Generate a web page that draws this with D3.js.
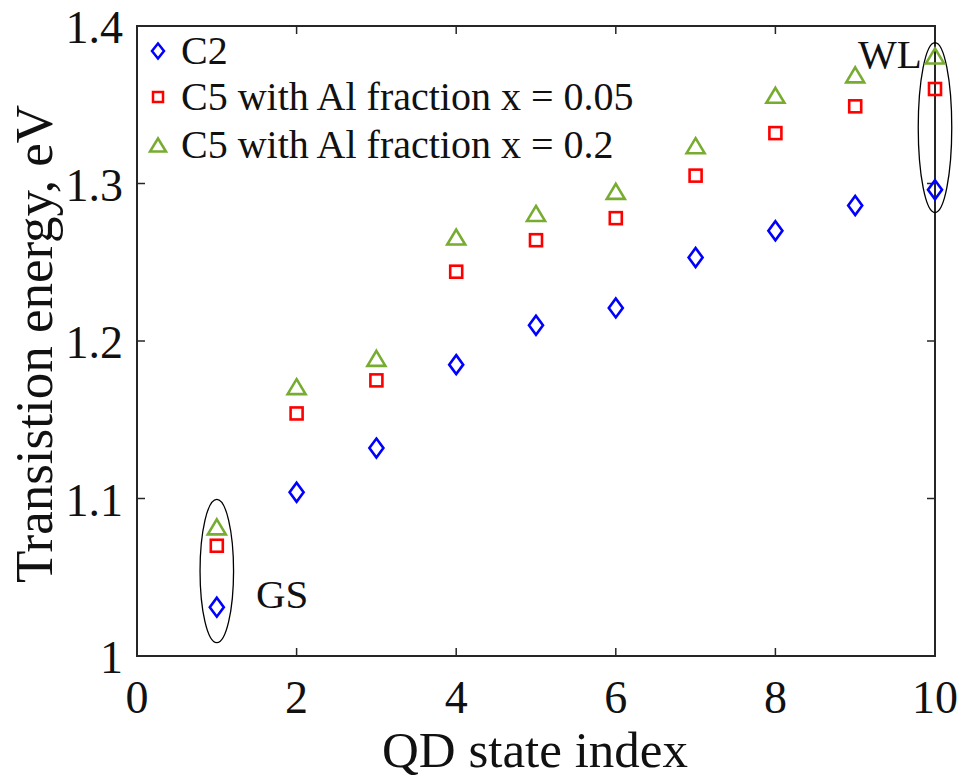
<!DOCTYPE html>
<html>
<head>
<meta charset="utf-8">
<script src="https://cdn.jsdelivr.net/npm/d3@7"></script>
<style>
  html, body { margin: 0; padding: 0; background: #fff; }
  svg { display: block; }
  text { font-family: "Liberation Serif", "Times New Roman", serif; fill: #111; }
</style>
</head>
<body>
<script>
// ---- data ----
const stateIndex = [1, 2, 3, 4, 5, 6, 7, 8, 9, 10];
const c2Values   = [1.031, 1.104, 1.132, 1.185, 1.210, 1.221, 1.253, 1.270, 1.286, 1.296];
const c5x005     = [1.070, 1.154, 1.175, 1.244, 1.264, 1.278, 1.305, 1.332, 1.349, 1.360];
const c5x02      = [1.082, 1.171, 1.189, 1.266, 1.281, 1.295, 1.324, 1.356, 1.369, 1.381];
const xTicks = [0, 2, 4, 6, 8, 10];
const xTickLabels = ["0", "2", "4", "6", "8", "10"];
const yTicks = [1.0, 1.1, 1.2, 1.3, 1.4];
const yTickLabels = ["1", "1.1", "1.2", "1.3", "1.4"];
const seriesNames = ["C2", "C5 with Al fraction x = 0.05", "C5 with Al fraction x = 0.2"];
const annotations = [
  { label: "GS", x: 1, yCenter: 1.054, ry: 0.0455, rxUnits: 0.21 },
  { label: "WL", x: 10, yCenter: 1.3355, ry: 0.054, rxUnits: 0.21 }
];

// ---- layout ----
const W = 960, H = 780;
const L = 137, R = 935, T = 26, B = 656;
const axisColor = "#262626";

const svg = d3.select("body").append("svg").attr("width", W).attr("height", H);

const x = d3.scaleLinear().domain([0, 10]).range([L, R]);
const y = d3.scaleLinear().domain([1.0, 1.4]).range([B, T]);

// marker shapes
function diamond(g, w, h) {
  return g.append("path").attr("d", `M0,${-h}L${w},0L0,${h}L${-w},0Z`);
}
function square(g, s) {
  return g.append("rect").attr("x", -s).attr("y", -s).attr("width", 2 * s).attr("height", 2 * s);
}
function triangle(g, w, h) {
  return g.append("path").attr("d", `M0,${-h}L${w},${h}L${-w},${h}Z`);
}

const series = [
  { name: seriesNames[0], values: c2Values, color: "#0000ff", draw: g => diamond(g, 7, 9.5), legend: g => diamond(g, 6, 7.5) },
  { name: seriesNames[1], values: c5x005,  color: "#ff0000", draw: g => square(g, 6), legend: g => square(g, 5) },
  { name: seriesNames[2], values: c5x02,   color: "#77ac30", draw: g => triangle(g, 9, 7.5), legend: g => triangle(g, 8, 6.5) }
];

// axes box
const axes = svg.append("g");
axes.append("rect")
  .attr("x", L).attr("y", T).attr("width", R - L).attr("height", B - T)
  .attr("fill", "none").attr("stroke", axisColor).attr("stroke-width", 2);

const tickLen = 8;
xTicks.forEach((t, i) => {
  const px = x(t);
  if (i > 0 && i < xTicks.length - 1) {
    axes.append("line").attr("x1", px).attr("x2", px).attr("y1", B).attr("y2", B - tickLen)
      .attr("stroke", axisColor).attr("stroke-width", 1.5);
    axes.append("line").attr("x1", px).attr("x2", px).attr("y1", T).attr("y2", T + tickLen)
      .attr("stroke", axisColor).attr("stroke-width", 1.5);
  }
  axes.append("text").attr("x", px).attr("y", B + 57)
    .attr("text-anchor", "middle").attr("font-size", 46).text(xTickLabels[i]);
});
yTicks.forEach((t, i) => {
  const py = y(t);
  if (i > 0 && i < yTicks.length - 1) {
    axes.append("line").attr("x1", L).attr("x2", L + tickLen).attr("y1", py).attr("y2", py)
      .attr("stroke", axisColor).attr("stroke-width", 1.5);
    axes.append("line").attr("x1", R).attr("x2", R - tickLen).attr("y1", py).attr("y2", py)
      .attr("stroke", axisColor).attr("stroke-width", 1.5);
  }
  axes.append("text").attr("x", L - 14).attr("y", py + 17)
    .attr("text-anchor", "end").attr("font-size", 46).text(yTickLabels[i]);
});

// axis titles
svg.append("text").attr("x", 535).attr("y", 767)
  .attr("text-anchor", "middle").attr("font-size", 51).text("QD state index");
svg.append("text")
  .attr("transform", `translate(52,344) rotate(-90)`)
  .attr("text-anchor", "middle").attr("font-size", 53).text("Transistion energy, eV");

// annotation ellipses
annotations.forEach(a => {
  svg.append("ellipse")
    .attr("cx", x(a.x)).attr("cy", y(a.yCenter))
    .attr("rx", x(a.rxUnits) - x(0)).attr("ry", y(1.0) - y(1.0 + a.ry))
    .attr("fill", "none").attr("stroke", "#000").attr("stroke-width", 1.3);
});
svg.append("text").attr("x", 256).attr("y", 608).attr("font-size", 41).text(annotations[0].label);
svg.append("text").attr("x", 858).attr("y", 68).attr("font-size", 41).text(annotations[1].label);

// points
series.forEach(s => {
  const g = svg.append("g");
  s.values.forEach((v, i) => {
    const m = g.append("g").attr("transform", `translate(${x(stateIndex[i])},${y(v)})`);
    s.draw(m).attr("fill", "none").attr("stroke", s.color).attr("stroke-width", 2.6);
  });
});

// legend
const legendRows = [51, 97, 145];
series.forEach((s, i) => {
  const m = svg.append("g").attr("transform", `translate(158,${legendRows[i]})`);
  s.legend(m).attr("fill", "none").attr("stroke", s.color).attr("stroke-width", 2.5);
  svg.append("text").attr("x", 181).attr("y", legendRows[i] + 13)
    .attr("font-size", 40).text(s.name);
});
</script>
</body>
</html>
